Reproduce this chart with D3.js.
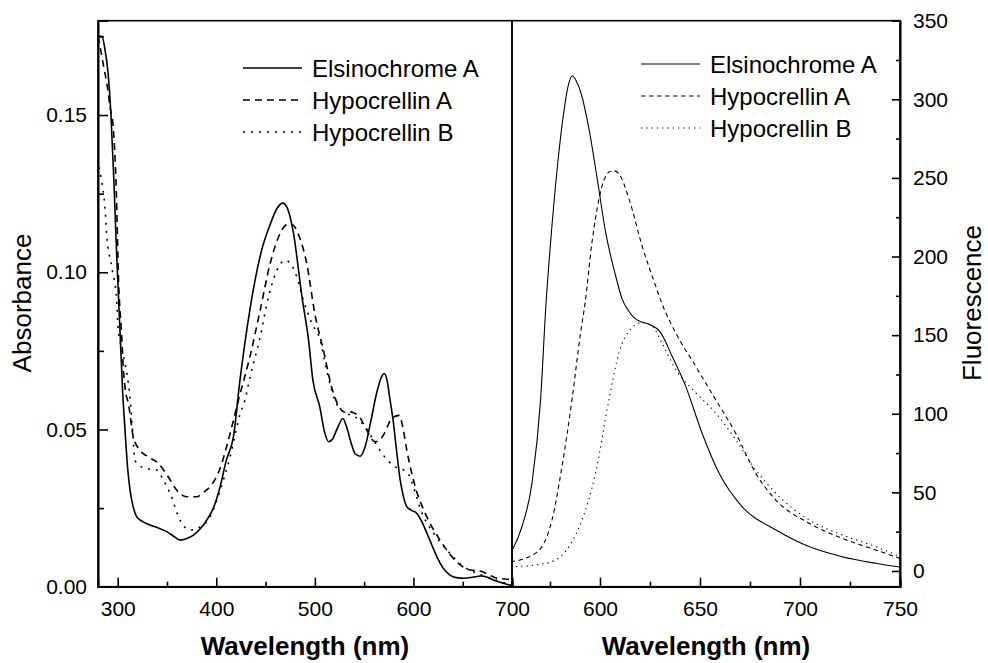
<!DOCTYPE html>
<html>
<head>
<meta charset="utf-8">
<script src="https://cdn.jsdelivr.net/npm/d3@7"></script>
<style>
  body { margin: 0; background: #fff; }
  svg text { font-family: "Liberation Sans", Arial, sans-serif; fill: #000; }
</style>
</head>
<body>
<div class="chart"></div>
<script>
// absorbance panel (left)
const seriesNames = ["Elsinochrome A", "Hypocrellin A", "Hypocrellin B"];

const absElsNm = [280, 284, 287, 290, 293, 296, 299, 302.3, 305, 307.4, 310, 312.5, 316, 319.3, 325, 332.8, 340, 349.7, 357, 363.2, 370, 376.8, 384, 390.4, 397, 403.9, 410, 417.4, 424, 434, 446, 455, 462, 467.5, 472, 478, 487, 493.6, 498, 505, 510, 514, 518, 523, 528.4, 532, 537, 541, 546, 551, 557, 563, 568, 570.4, 573, 576, 579.8, 583, 586.6, 590, 593.4, 598, 603.5, 608, 613.7, 619, 623.8, 630, 637, 645, 651, 660, 668, 675, 681, 690, 698, 700];
const absElsVal = [0.175, 0.175, 0.171, 0.164, 0.151, 0.130, 0.105, 0.0815, 0.062, 0.0498, 0.038, 0.0307, 0.025, 0.0222, 0.0208, 0.0196, 0.0188, 0.0175, 0.0160, 0.0148, 0.0153, 0.0164, 0.0185, 0.0212, 0.025, 0.0318, 0.040, 0.0477, 0.0656, 0.0879, 0.107, 0.1155, 0.1205, 0.122, 0.1205, 0.113, 0.092, 0.0784, 0.0657, 0.0572, 0.049, 0.0461, 0.047, 0.0505, 0.0535, 0.051, 0.0455, 0.0422, 0.0415, 0.0445, 0.053, 0.062, 0.067, 0.0678, 0.066, 0.060, 0.0519, 0.043, 0.0339, 0.0285, 0.0254, 0.0243, 0.0233, 0.021, 0.017, 0.013, 0.0095, 0.006, 0.0037, 0.0028, 0.0027, 0.003, 0.0034, 0.003, 0.0021, 0.0012, 0.0005, 0.0004];

const absHyaNm = [280, 282, 286, 289, 292.5, 295.5, 299, 300.6, 304, 306, 308, 310.8, 315.8, 322.6, 331, 341.2, 351.4, 359.9, 370, 380.2, 387, 393.7, 405.6, 410, 415.7, 422.4, 434, 444.5, 454.6, 464.7, 473, 478, 483, 491.8, 500, 508.7, 517, 525.6, 530, 535.7, 540, 544, 552.6, 558, 561, 565, 569.5, 578, 585.8, 589, 593.3, 601.8, 612, 627, 644, 657.5, 663, 669.5, 677, 684.8, 698, 700];
const absHyaVal = [0.175, 0.172, 0.165, 0.160, 0.152, 0.146, 0.121, 0.100, 0.080, 0.068, 0.062, 0.0583, 0.0477, 0.0434, 0.0413, 0.0392, 0.0349, 0.0307, 0.0286, 0.0286, 0.030, 0.0318, 0.0392, 0.044, 0.0508, 0.0593, 0.073, 0.0879, 0.1027, 0.1123, 0.1154, 0.115, 0.1123, 0.1027, 0.0868, 0.0752, 0.0635, 0.0567, 0.0555, 0.0556, 0.0552, 0.0545, 0.0498, 0.0468, 0.0461, 0.0465, 0.0482, 0.0535, 0.0545, 0.051, 0.0434, 0.0318, 0.0233, 0.0148, 0.0079, 0.0053, 0.0052, 0.0048, 0.0037, 0.0027, 0.0023, 0.0022];

const absHybNm = [281, 283.7, 287, 288.8, 293.9, 299, 300.6, 304, 307.4, 312.5, 315, 317.6, 322, 329.4, 339.6, 346.3, 353.1, 363.2, 373.4, 383.6, 393.7, 403.9, 414, 424.2, 429, 434.3, 444.5, 452.9, 461.4, 470, 476.6, 481.7, 488.4, 497, 505.4, 512, 520.4, 529, 541, 551, 559.5, 569.5, 581.5, 593.4, 600, 606.9, 620.4, 634, 650.9, 664.5, 678, 695, 700];
const absHybVal = [0.1334, 0.129, 0.1207, 0.112, 0.1017, 0.091, 0.0815, 0.076, 0.071, 0.060, 0.050, 0.0402, 0.0385, 0.0376, 0.0371, 0.0339, 0.0297, 0.0212, 0.018, 0.019, 0.0222, 0.0307, 0.0413, 0.055, 0.0593, 0.0667, 0.0794, 0.0921, 0.1006, 0.1038, 0.1022, 0.0985, 0.0911, 0.0837, 0.0784, 0.0688, 0.0593, 0.0556, 0.054, 0.0508, 0.0466, 0.0418, 0.0381, 0.0365, 0.0318, 0.0249, 0.017, 0.0117, 0.0064, 0.0043, 0.0027, 0.0011, 0.0009];

// fluorescence panel (right)
const fluElsNm = [555.3, 561, 566, 570.3, 573, 575.3, 578.6, 581.9, 584, 586.1, 588, 590.3, 594.5, 598.6, 602.8, 607.8, 611.1, 614, 617, 620.5, 624.4, 630.3, 636, 642.8, 651, 659.5, 671, 687.8, 704.5, 721, 737.8, 750];
const fluElsVal = [11.3, 28.3, 56, 109, 170, 209, 256, 292, 308, 315, 312, 304.8, 281, 249.5, 215.5, 187.8, 172.9, 166, 161.2, 158.5, 157, 151.6, 136.7, 117.6, 87.8, 62.3, 41, 26.2, 15.5, 9.1, 4.9, 2.5];

const fluHyaNm = [555.3, 564.5, 571, 576, 581, 586, 590.3, 592.5, 596, 599.5, 604.5, 607, 609.5, 614.5, 621, 627.8, 631, 637.8, 647.8, 657.8, 667.8, 677.8, 687.8, 704.5, 721, 737.8, 750];
const fluHyaVal = [5.9, 9.1, 15.5, 32.5, 66.5, 109, 151.6, 170, 209, 236.7, 253.7, 254.5, 252.6, 236.7, 207, 181.4, 170, 151.6, 130.3, 109, 87.8, 62.3, 45.3, 30.4, 20.8, 13.4, 8];

const fluHybNm = [555.3, 567.8, 577.8, 584.5, 591, 597.8, 604.5, 609.5, 615.3, 621, 626, 631, 637.8, 647.8, 657.8, 667.8, 677.8, 687.8, 704.5, 721, 737.8, 750];
const fluHybVal = [2.7, 3.8, 7, 15.5, 32.5, 62.3, 109, 138.9, 153.8, 158, 155.9, 145, 128.3, 113.4, 100.6, 83.6, 64.4, 49.6, 32.5, 23, 15.5, 9.1];

const absMajorTicks = [0, 0.05, 0.10, 0.15];
const absMinorTicks = [0.025, 0.075, 0.125, 0.175];
const absNmMajorTicks = [300, 400, 500, 600, 700];
const absNmMinorTicks = [350, 450, 550, 650];
const fluMajorTicks = [0, 50, 100, 150, 200, 250, 300, 350];
const fluMinorTicks = [25, 75, 125, 175, 225, 275, 325];
const fluNmMajorTicks = [600, 650, 700, 750];
const fluNmMinorTicks = [575, 625, 675, 725];

var width = 988, height = 663;
var plotTop = 20.7, plotBottom = 586.7;

var svg = d3.select(".chart").append("svg")
        .attr("width", width)
        .attr("height", height);

function zipSeries(nm, val) {
    return nm.map((d, i) => [d, val[i]]);
}

function drawPanel(opts) {
    var x = d3.scaleLinear().domain(opts.xDomain).range([opts.left, opts.right]);
    var y = d3.scaleLinear().domain(opts.yDomain).range([plotBottom, plotTop]);

    var clipId = "clip-" + opts.name;
    svg.append("clipPath").attr("id", clipId)
            .append("rect")
            .attr("x", opts.left).attr("y", plotTop)
            .attr("width", opts.right - opts.left).attr("height", plotBottom - plotTop);

    var line = d3.line()
            .x((d) => x(d[0]))
            .y((d) => y(d[1]))
            .curve(d3.curveMonotoneX);

    svg.append("g").attr("clip-path", "url(#" + clipId + ")")
            .selectAll("path")
            .data(opts.series)
            .enter().append("path")
            .attr("d", (d) => line(d.points))
            .attr("fill", "none")
            .attr("stroke", "#000")
            .attr("stroke-width", opts.lineWidth)
            .attr("stroke-dasharray", (d, i) => opts.dashes[i]);

    // frame
    svg.append("rect")
            .attr("x", opts.left).attr("y", plotTop)
            .attr("width", opts.right - opts.left).attr("height", plotBottom - plotTop)
            .attr("fill", "none")
            .attr("stroke", "#000")
            .attr("stroke-width", 1.6);

    // bottom axis
    svg.append("g")
            .attr("transform", "translate(0," + plotBottom + ")")
            .call(d3.axisBottom(x).tickValues(opts.xMajor).tickSize(-9).tickPadding(14).tickFormat(d3.format("d")));
    svg.append("g")
            .attr("transform", "translate(0," + plotBottom + ")")
            .call(d3.axisBottom(x).tickValues(opts.xMinor).tickSize(-5).tickFormat(""));

    // value axis
    var yAxisGen = opts.yRight ? d3.axisRight(y) : d3.axisLeft(y);
    var yPos = opts.yRight ? opts.right : opts.left;
    svg.append("g")
            .attr("transform", "translate(" + yPos + ",0)")
            .call(yAxisGen.tickValues(opts.yMajor).tickSize(opts.yRight ? -8 : -10).tickPadding(opts.yRight ? 13 : 11).tickFormat(opts.yFormat));
    var yMinorGen = opts.yRight ? d3.axisRight(y) : d3.axisLeft(y);
    svg.append("g")
            .attr("transform", "translate(" + yPos + ",0)")
            .call(yMinorGen.tickValues(opts.yMinor).tickSize(opts.yRight ? -4 : -6).tickFormat(""));

    // legend
    var legend = svg.append("g").attr("class", "legend");
    opts.series.forEach((s, i) => {
        var ly = opts.legendY + i * opts.legendStep;
        legend.append("line")
                .attr("x1", opts.legendX).attr("x2", opts.legendX + 59)
                .attr("y1", ly).attr("y2", ly)
                .attr("stroke", "#000")
                .attr("stroke-width", opts.lineWidth)
                .attr("stroke-dasharray", opts.dashes[i]);
        legend.append("text")
                .attr("x", opts.legendX + 69)
                .attr("y", ly)
                .attr("dy", "0.36em")
                .style("font-size", "24px")
                .text(s.name);
    });

    svg.append("text")
            .attr("x", (opts.left + opts.right) / 2)
            .attr("y", 655)
            .attr("text-anchor", "middle")
            .style("font-size", "26px")
            .style("font-weight", "bold")
            .text("Wavelength (nm)");
}

drawPanel({
    name: "abs", left: 98, right: 512,
    xDomain: [280, 700], yDomain: [0, 0.18],
    xMajor: absNmMajorTicks, xMinor: absNmMinorTicks,
    yMajor: absMajorTicks, yMinor: absMinorTicks,
    yFormat: d3.format(".2f"), yRight: false,
    lineWidth: 1.6, dashes: [null, "7,5", "2,6"],
    legendX: 243, legendY: 68, legendStep: 32,
    series: [
        {name: seriesNames[0], points: zipSeries(absElsNm, absElsVal)},
        {name: seriesNames[1], points: zipSeries(absHyaNm, absHyaVal)},
        {name: seriesNames[2], points: zipSeries(absHybNm, absHybVal)}
    ]
});

drawPanel({
    name: "flu", left: 512, right: 900,
    xDomain: [556, 750], yDomain: [-10, 350],
    xMajor: fluNmMajorTicks, xMinor: fluNmMinorTicks,
    yMajor: fluMajorTicks, yMinor: fluMinorTicks,
    yFormat: d3.format("d"), yRight: true,
    lineWidth: 1.1, dashes: [null, "4.5,3.5", "1.3,4"],
    legendX: 641, legendY: 64, legendStep: 32,
    series: [
        {name: seriesNames[0], points: zipSeries(fluElsNm, fluElsVal)},
        {name: seriesNames[1], points: zipSeries(fluHyaNm, fluHyaVal)},
        {name: seriesNames[2], points: zipSeries(fluHybNm, fluHybVal)}
    ]
});

svg.selectAll(".tick text").style("font-size", "21px").attr("fill", "#000");
svg.selectAll(".domain").attr("stroke-width", 1.6);
svg.selectAll(".tick line").attr("stroke-width", 1.6);

svg.append("text")
        .attr("transform", "translate(31,303) rotate(-90)")
        .attr("text-anchor", "middle")
        .style("font-size", "26px")
        .text("Absorbance");

svg.append("text")
        .attr("transform", "translate(981,303) rotate(-90)")
        .attr("text-anchor", "middle")
        .style("font-size", "26px")
        .text("Fluorescence");
</script>
</body>
</html>
